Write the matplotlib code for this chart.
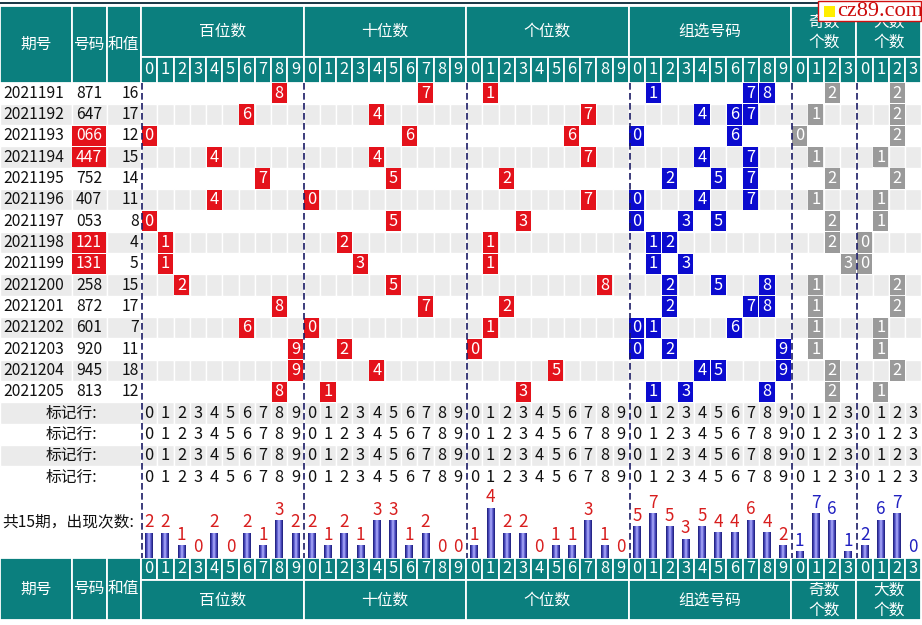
import matplotlib
matplotlib.use('Agg')
import matplotlib.pyplot as plt
from matplotlib.patches import Rectangle
from matplotlib.colors import LinearSegmentedColormap
import numpy as np

plt.rcParams['font.family'] = ['Noto Sans CJK SC', 'DejaVu Sans']

# ---------------- data ----------------
periods = ['2021191', '2021192', '2021193', '2021194', '2021195', '2021196', '2021197',
           '2021198', '2021199', '2021200', '2021201', '2021202', '2021203', '2021204', '2021205']
numbers = ['871', '647', '066', '447', '752', '407', '053', '121', '131', '258',
           '872', '601', '920', '945', '813']
sums = [16, 17, 12, 15, 14, 11, 8, 4, 5, 15, 17, 7, 11, 18, 12]
odd_counts = [2, 1, 0, 1, 2, 1, 2, 2, 3, 1, 1, 1, 1, 2, 2]
big_counts = [2, 2, 2, 1, 2, 1, 1, 0, 0, 2, 2, 1, 1, 2, 1]

section_names = ['百位数', '十位数', '个位数', '组选号码', ('奇数', '个数'), ('大数', '个数')]
section_digits = [list('0123456789')] * 4 + [list('0123'), list('0123')]

hist_hundreds = [2, 2, 1, 0, 2, 0, 2, 1, 3, 2]
hist_tens = [2, 1, 2, 1, 3, 3, 1, 2, 0, 0]
hist_units = [1, 4, 2, 2, 0, 1, 1, 3, 1, 0]
hist_group = [5, 7, 5, 3, 5, 4, 4, 6, 4, 2]
hist_odd = [1, 7, 6, 1]
hist_big = [2, 6, 7, 0]

head_labels = ['期号', '号码', '和值']
mark_label = '标记行:'
total_label = '共15期，出现次数:'
watermark = 'cz89.com'

# ---------------- style / layout ----------------
W, H = 922, 625
TEAL = '#0b7f7e'
GRAY_BG = '#ebebeb'
RED = '#e4121b'
BLUE = '#0b0bcf'
MGRAY = '#9a9a9a'
FS = 11.3

X0 = 141.0
CW = 16.26
left_cols = [(0, 71.5), (71.5, 106.5), (106.5, X0)]
HDR_TOP, HDR_MID, HDR_BOT = 5.5, 57.0, 82.5
ROW_H = 21.33
N_DATA = len(periods)
N_MARK = 4
BASE = 557.8
BOT_MID, BOT_END = 579.5, 620.0

sec_start = [0, 10, 20, 30, 40, 44]
sec_len = [10, 10, 10, 10, 4, 4]

fig = plt.figure(figsize=(W / 100, H / 100), dpi=100)
ax = fig.add_axes([0, 0, 1, 1])
ax.set_axis_off()


def rect(x0, y0, x1, y1, fc, ec='white', lw=1.0, z=1):
    ax.add_patch(Rectangle((x0, y0), x1 - x0, y1 - y0, facecolor=fc, edgecolor=ec, linewidth=lw, zorder=z))


def colx(c):
    return X0 + c * CW


# top dark line
rect(0, 1.5, W, 4.3, '#1e3a48', ec='none', z=2)

# ---------- header (top) ----------
for (a, b), lab in zip(left_cols, head_labels):
    rect(a, HDR_TOP, b, HDR_BOT, TEAL, lw=1.3)
    ax.text((a + b) / 2, (HDR_TOP + HDR_BOT) / 2, lab, color='white', fontsize=FS, ha='center', va='center', zorder=3)
for s, n, name, digs in zip(sec_start, sec_len, section_names, section_digits):
    rect(colx(s), HDR_TOP, colx(s + n), HDR_MID, TEAL, lw=1.3)
    cx = (colx(s) + colx(s + n)) / 2
    if isinstance(name, tuple):
        ax.text(cx, 22, name[0], color='white', fontsize=FS, ha='center', va='center', zorder=3)
        ax.text(cx, 42, name[1], color='white', fontsize=FS, ha='center', va='center', zorder=3)
    else:
        ax.text(cx, (HDR_TOP + HDR_MID) / 2, name, color='white', fontsize=FS, ha='center', va='center', zorder=3)
    for k, d in enumerate(digs):
        rect(colx(s + k), HDR_MID, colx(s + k + 1), HDR_BOT, TEAL, lw=1.3)
        ax.text(colx(s + k) + CW / 2, (HDR_MID + HDR_BOT) / 2, d, color='white', fontsize=FS + 0.5,
                ha='center', va='center', zorder=3)


def row_y(i):
    return HDR_BOT + i * ROW_H


# ---------- row backgrounds ----------
for i in range(N_DATA + N_MARK):
    if i % 2 == 1:
        y0, y1 = row_y(i), row_y(i + 1)
        if i < N_DATA:
            for a, b in left_cols:
                rect(a, y0, b, y1, GRAY_BG, lw=1.0)
        else:
            rect(0, y0, X0, y1, GRAY_BG, lw=1.0)
        for c in range(48):
            rect(colx(c), y0, colx(c + 1), y1, GRAY_BG, lw=1.0)

# ---------- data rows ----------
for i, (p, num, sm) in enumerate(zip(periods, numbers, sums)):
    y0, y1 = row_y(i), row_y(i + 1)
    yc = (y0 + y1) / 2
    ax.text(3, yc, p, fontsize=FS, ha='left', va='center', color='#111111', zorder=3)
    repeated = len(set(num)) < 3
    if repeated:
        rect(left_cols[1][0] + 0.5, y0 + 0.5, left_cols[1][1] - 0.5, y1 - 0.5, RED, ec='none', z=2)
    ax.text(89, yc, num, fontsize=FS, ha='center', va='center',
            color='white' if repeated else '#111111', zorder=3)
    ax.text(138.5, yc, str(sm), fontsize=FS, ha='right', va='center', color='#111111', zorder=3)

    marks = []
    for pos in range(3):
        d = int(num[pos])
        marks.append((sec_start[pos] + d, str(d), RED))
    for d in sorted(set(num)):
        marks.append((30 + int(d), d, BLUE))
    marks.append((40 + odd_counts[i], str(odd_counts[i]), MGRAY))
    marks.append((44 + big_counts[i], str(big_counts[i]), MGRAY))
    for c, t, col in marks:
        rect(colx(c) + 0.6, y0 + 0.6, colx(c + 1) - 0.6, y1 - 0.6, col, ec='none', z=2)
        ax.text(colx(c) + CW / 2, yc, t, fontsize=FS + 0.5, ha='center', va='center', color='white', zorder=3)

# ---------- mark rows ----------
for m in range(N_MARK):
    i = N_DATA + m
    yc = (row_y(i) + row_y(i + 1)) / 2
    ax.text(71, yc, mark_label, fontsize=FS, ha='center', va='center', color='#111111', zorder=3)
    for s, digs in zip(sec_start, section_digits):
        for k, d in enumerate(digs):
            ax.text(colx(s + k) + CW / 2, yc, d, fontsize=FS + 0.5, ha='center', va='center',
                    color='#111111', zorder=3)

# ---------- histogram ----------
ax.text(2, 522, total_label, fontsize=FS, ha='left', va='center', color='#111111', zorder=3)
grad_cmap = LinearSegmentedColormap.from_list('bar', ['#1c1c78', '#5252c8', '#b4b4ff', '#5252c8', '#1c1c78'])
grad = np.linspace(0, 1, 24).reshape(1, -1)
hists = [hist_hundreds, hist_tens, hist_units, hist_group, hist_odd, hist_big]
scales = [12.5, 12.5, 12.5, 6.3, 6.3, 6.3]
lab_cols = ['#d81e1e'] * 4 + ['#2020c0'] * 2
BW = 7.8
for s, hv, sc, lc in zip(sec_start, hists, scales, lab_cols):
    for k, v in enumerate(hv):
        cx = colx(s + k) + CW / 2
        top = BASE - v * sc
        if v > 0:
            ax.imshow(grad, cmap=grad_cmap, extent=(cx - BW / 2, cx + BW / 2, BASE, top),
                      aspect='auto', interpolation='bilinear', zorder=2)
        ax.text(cx, top - 1.5, str(v), fontsize=FS + 1, ha='center', va='bottom', color=lc, zorder=3)

# ---------- dashed separators ----------
for s in sec_start:
    ax.plot([colx(s) + 0.8, colx(s) + 0.8], [HDR_BOT, BASE], color='#1b1b66', lw=1.2,
            linestyle=(0, (4, 2)), zorder=4)

# ---------- bottom header ----------
for (a, b), lab in zip(left_cols, head_labels):
    rect(a, BASE, b, BOT_END, TEAL, lw=1.3)
    ax.text((a + b) / 2, (BASE + BOT_END) / 2, lab, color='white', fontsize=FS, ha='center', va='center', zorder=3)
for s, n, name, digs in zip(sec_start, sec_len, section_names, section_digits):
    for k, d in enumerate(digs):
        rect(colx(s + k), BASE, colx(s + k + 1), BOT_MID, TEAL, lw=1.3)
        ax.text(colx(s + k) + CW / 2, (BASE + BOT_MID) / 2, d, color='white', fontsize=FS + 0.5,
                ha='center', va='center', zorder=3)
    rect(colx(s), BOT_MID, colx(s + n), BOT_END, TEAL, lw=1.3)
    cx = (colx(s) + colx(s + n)) / 2
    if isinstance(name, tuple):
        ax.text(cx, 590, name[0], color='white', fontsize=FS, ha='center', va='center', zorder=3)
        ax.text(cx, 610, name[1], color='white', fontsize=FS, ha='center', va='center', zorder=3)
    else:
        ax.text(cx, (BOT_MID + BOT_END) / 2, name, color='white', fontsize=FS, ha='center', va='center', zorder=3)

# ---------- watermark ----------
rect(818, 0.5, 920.5, 20.5, 'white', ec='#d01010', lw=1.0, z=6)
rect(824, 5.5, 834.5, 17, '#ffee00', ec='none', z=7)
ax.text(837.5, 11, watermark, fontsize=16, family=['Liberation Serif', 'DejaVu Serif'],
        color='#cc0a0a', ha='left', va='center', zorder=7)

ax.set_xlim(0, W)
ax.set_ylim(H, 0)
fig.savefig('out.png', dpi=100, facecolor='white')
